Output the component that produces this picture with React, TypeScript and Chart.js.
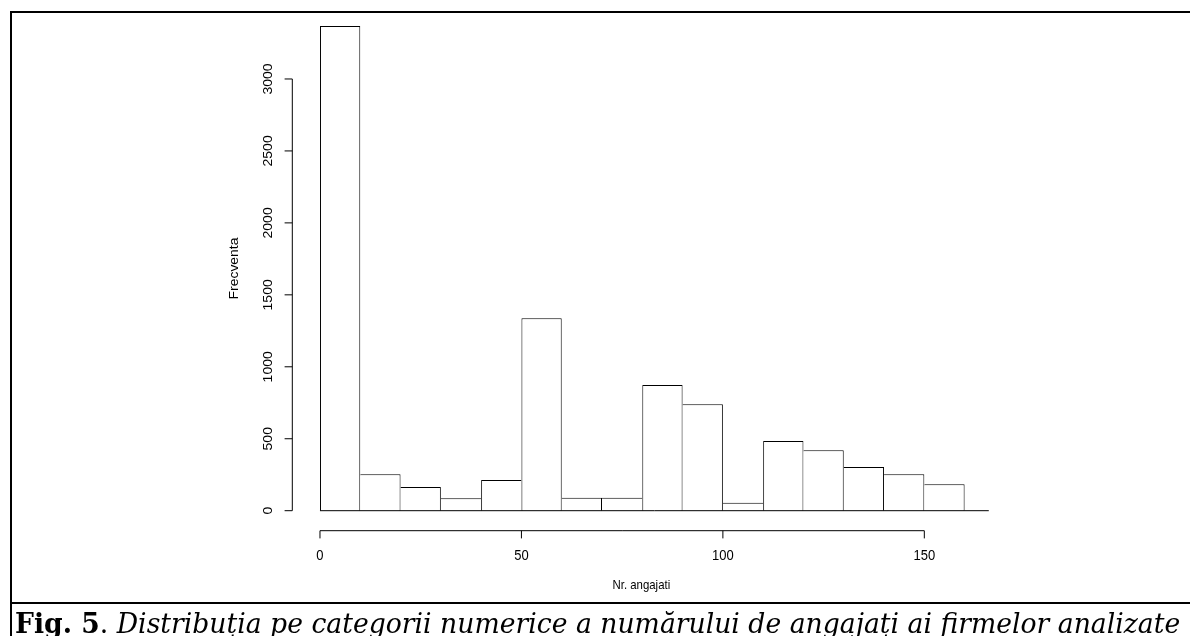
import React, { useEffect, useRef } from "react";
import { Chart, registerables } from "chart.js";

Chart.register(...registerables);

// ---- data ----
const binStarts = [0, 10, 20, 30, 40, 50, 60, 70, 80, 90, 100, 110, 120, 130, 140, 150];
const binWidth = 10;
const counts = [3368, 253, 165, 86, 213, 1337, 90, 90, 874, 739, 56, 484, 420, 304, 253, 183];
const xTicks = [0, 50, 100, 150];
const yTicks = [0, 500, 1000, 1500, 2000, 2500, 3000];
const baselineRange = [0, 166];
const xLimits = [-6.87, 166.4];
const yLimits = [-139, 3505];
const xTitle = "Nr. angajati";
const yTitle = "Frecventa";

const AXIS_FONT = '"Liberation Sans", Arial, sans-serif';

const rAxesPlugin = {
  id: "rAxes",
  afterDatasetsDraw(chart: any) {
    const { ctx, chartArea, scales } = chart;
    const x = scales.x;
    const y = scales.y;
    ctx.save();
    ctx.strokeStyle = "#000";
    ctx.fillStyle = "#000";
    ctx.lineWidth = 1;

    const axY = chartArea.bottom;
    const axX = chartArea.left;
    const tick = 7.7;

    ctx.beginPath();
    ctx.moveTo(x.getPixelForValue(xTicks[0]), axY);
    ctx.lineTo(x.getPixelForValue(xTicks[xTicks.length - 1]), axY);
    xTicks.forEach((v) => {
      const px = x.getPixelForValue(v);
      ctx.moveTo(px, axY);
      ctx.lineTo(px, axY + tick);
    });
    ctx.moveTo(axX, y.getPixelForValue(yTicks[0]));
    ctx.lineTo(axX, y.getPixelForValue(yTicks[yTicks.length - 1]));
    yTicks.forEach((v) => {
      const py = y.getPixelForValue(v);
      ctx.moveTo(axX, py);
      ctx.lineTo(axX - tick, py);
    });
    ctx.stroke();

    ctx.textAlign = "center";
    ctx.textBaseline = "middle";

    // x tick labels (slightly stretched vertically, as in the source image)
    ctx.font = `13px ${AXIS_FONT}`;
    xTicks.forEach((v) => {
      ctx.save();
      ctx.translate(x.getPixelForValue(v), axY + 25.5);
      ctx.scale(1, 1.15);
      ctx.fillText(String(v), 0, 0);
      ctx.restore();
    });

    // y tick labels, rotated
    ctx.font = `13px ${AXIS_FONT}`;
    yTicks.forEach((v) => {
      ctx.save();
      ctx.translate(axX - 24.3, y.getPixelForValue(v));
      ctx.rotate(-Math.PI / 2);
      ctx.scale(1.08, 1);
      ctx.fillText(String(v), 0, 0);
      ctx.restore();
    });

    // axis titles
    ctx.font = `12px ${AXIS_FONT}`;
    ctx.save();
    ctx.translate((chartArea.left + chartArea.right) / 2, axY + 55);
    ctx.scale(0.95, 1.1);
    ctx.fillText(xTitle, 0, 0);
    ctx.restore();

    ctx.font = `13px ${AXIS_FONT}`;
    ctx.save();
    ctx.translate(axX - 57.5, (chartArea.top + chartArea.bottom) / 2);
    ctx.rotate(-Math.PI / 2);
    ctx.scale(1.07, 1);
    ctx.fillText(yTitle, 0, 0);
    ctx.restore();

    ctx.restore();
  },
};

function edgeWidths(i: number) {
  const h = counts[i];
  const prev = i > 0 ? counts[i - 1] : -1;
  const next = i < counts.length - 1 ? counts[i + 1] : -1;
  return {
    top: 1,
    bottom: 0,
    left: h > prev ? 1 : 0,
    right: h >= next ? 1 : 0,
  };
}

export default function App() {
  const canvasRef = useRef<HTMLCanvasElement | null>(null);
  const captionRef = useRef<HTMLDivElement | null>(null);

  useEffect(() => {
    if (!canvasRef.current) return;
    const bars = binStarts.map((s, i) => ({ x: s + binWidth / 2, y: counts[i] }));
    const baseline = baselineRange.map((v) => ({ x: v, y: 0 }));
    const chart = new Chart(canvasRef.current, {
      type: "bar",
      data: {
        datasets: [
          {
            type: "line",
            data: baseline,
            borderColor: "#000",
            borderWidth: 1,
            pointRadius: 0,
            fill: false,
          } as any,
          {
            type: "bar",
            data: bars,
            backgroundColor: "#ffffff",
            borderColor: "#000",
            borderWidth: (c: any) => edgeWidths(c.dataIndex),
            borderSkipped: false,
            barPercentage: 1,
            categoryPercentage: 1,
            grouped: false,
            inflateAmount: 0,
          } as any,
        ],
      },
      options: {
        responsive: false,
        animation: false,
        devicePixelRatio: 1,
        layout: {
          padding: { left: 292.3, right: 1190 - 990.4, top: 6.3, bottom: 600 - 530.7 },
        },
        scales: {
          x: { type: "linear", min: xLimits[0], max: xLimits[1], display: false, offset: false },
          y: { type: "linear", min: yLimits[0], max: yLimits[1], display: false },
        },
        plugins: { legend: { display: false }, tooltip: { enabled: false } },
      },
      plugins: [rAxesPlugin],
    });

    const cap = captionRef.current;
    if (cap) {
      cap.style.transform = "none";
      const w = cap.scrollWidth;
      if (w > 0) cap.style.transform = `scaleX(${1165 / w})`;
    }
    return () => chart.destroy();
  }, []);

  return (
    <div
      style={{
        position: "fixed",
        left: 0,
        top: 0,
        width: 1190,
        height: 636,
        overflow: "hidden",
        background: "#fff",
      }}
    >
      <canvas
        ref={canvasRef}
        width={1190}
        height={600}
        style={{ position: "absolute", left: 0, top: 0, width: 1190, height: 600 }}
      />
      <div
        style={{
          position: "absolute",
          left: 10,
          top: 11,
          width: 1250,
          height: 589,
          borderTop: "2px solid #000",
          borderLeft: "2px solid #000",
          borderBottom: "2px solid #000",
          pointerEvents: "none",
        }}
      />
      <div style={{ position: "absolute", left: 10, top: 604, width: 2, height: 40, background: "#000" }} />
      <div
        ref={captionRef}
        style={{
          position: "absolute",
          left: 15,
          top: 610,
          whiteSpace: "nowrap",
          fontFamily: '"DejaVu Serif", serif',
          fontSize: 27.5,
          lineHeight: "27.5px",
          color: "#000",
          transformOrigin: "0 0",
          display: "inline-block",
        }}
      >
        <b>Fig. 5</b>. <i>Distribuția pe categorii numerice a numărului de angajați ai firmelor analizate</i>
      </div>
    </div>
  );
}
